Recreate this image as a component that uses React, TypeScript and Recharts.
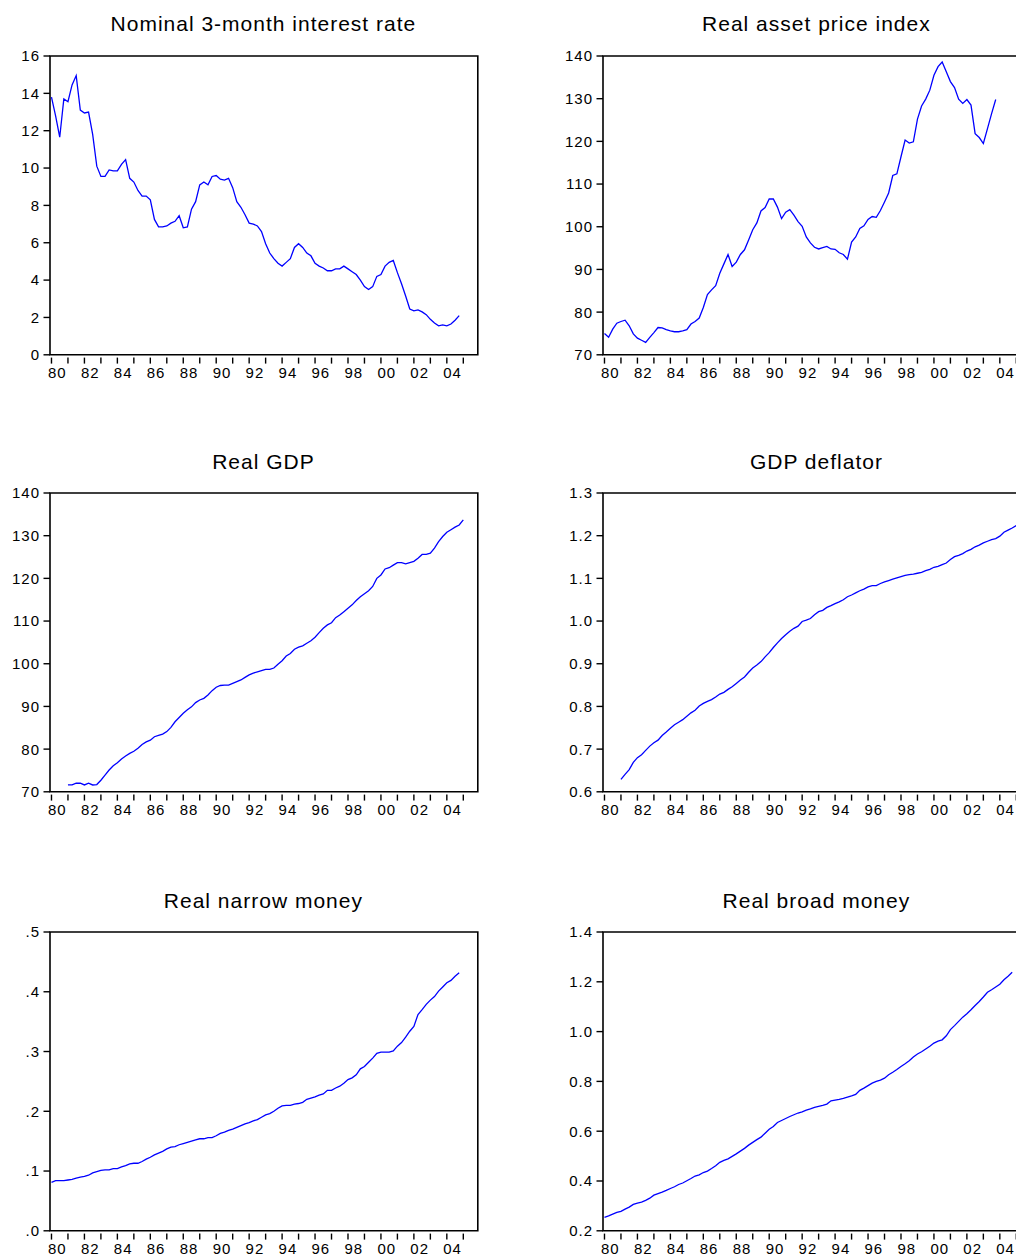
import React from "react";
import { LineChart, Line, XAxis, YAxis, ReferenceArea } from "recharts";

// ---------------- DATA ----------------
// Quarterly observations. Start year of each series (first quarter).
const interestStart = 1980;
const assetStart = 1980;
const gdpStart = 1981;
const deflatorStart = 1981;
const narrowStart = 1980;
const broadStart = 1980;

const interestRate = [
  13.8, 12.8, 11.65, 13.7,
  13.55, 14.45, 14.95, 13.1,
  12.95, 13.0, 11.8, 10.1,
  9.55, 9.55, 9.9, 9.85,
  9.85, 10.2, 10.45, 9.45,
  9.25, 8.8, 8.5, 8.5,
  8.3, 7.25, 6.85, 6.85,
  6.9, 7.05, 7.15, 7.45,
  6.8, 6.85, 7.8, 8.2,
  9.1, 9.25, 9.1, 9.55,
  9.6, 9.4, 9.35, 9.45,
  8.95, 8.2, 7.9, 7.5,
  7.05, 7.0, 6.9, 6.6,
  5.95, 5.45, 5.15, 4.9,
  4.75, 4.95, 5.15, 5.75,
  5.95, 5.75, 5.45, 5.3,
  4.9, 4.75, 4.65, 4.5,
  4.5, 4.6, 4.6, 4.75,
  4.6, 4.45, 4.3, 4.0,
  3.65, 3.5, 3.65, 4.2,
  4.3, 4.75, 4.95, 5.05,
  4.4, 3.8, 3.15, 2.45,
  2.35, 2.4, 2.3, 2.15,
  1.9, 1.7, 1.55, 1.6,
  1.55, 1.65, 1.85, 2.1,
];

const assetPrice = [
  75.0, 74.1, 76.0, 77.4,
  77.8, 78.1, 76.8, 74.9,
  73.9, 73.4, 72.9, 74.1,
  75.2, 76.4, 76.3, 75.9,
  75.6, 75.4, 75.4, 75.6,
  75.9, 77.2, 77.8, 78.6,
  81.1, 84.1, 85.2, 86.2,
  89.1, 91.3, 93.5, 90.7,
  91.7, 93.5, 94.6, 96.9,
  99.3, 100.9, 103.7, 104.5,
  106.5, 106.5, 104.6, 101.9,
  103.4, 104.0, 102.7, 101.2,
  100.1, 97.6, 96.2, 95.2,
  94.8, 95.1, 95.4, 94.8,
  94.7, 93.9, 93.5, 92.4,
  96.4, 97.6, 99.6, 100.2,
  101.7, 102.4, 102.2, 103.8,
  105.8, 107.9, 112.0, 112.4,
  116.4, 120.3, 119.6, 119.9,
  125.2, 128.3, 129.9, 132.0,
  135.5, 137.5, 138.6, 136.3,
  134.0, 132.6, 129.9, 128.9,
  129.8, 128.5, 121.8, 120.9,
  119.5, 123.0, 126.5, 129.8,
];

const realGdp = [
  71.6, 71.6, 72.0, 72.0,
  71.6, 72.0, 71.6, 71.7,
  72.7, 73.9, 75.1, 76.1,
  76.8, 77.7, 78.4, 79.0,
  79.5, 80.2, 81.1, 81.7,
  82.1, 82.9, 83.2, 83.5,
  84.1, 85.1, 86.4, 87.4,
  88.4, 89.2, 89.9, 90.9,
  91.5, 91.9, 92.7, 93.7,
  94.5, 94.9, 95.0, 95.0,
  95.4, 95.8, 96.2, 96.8,
  97.4, 97.8, 98.1, 98.4,
  98.7, 98.7, 99.0, 99.9,
  100.7, 101.8, 102.4, 103.4,
  103.9, 104.2, 104.8, 105.4,
  106.2, 107.3, 108.3, 109.1,
  109.6, 110.8, 111.4, 112.2,
  113.0, 113.8, 114.8, 115.7,
  116.4, 117.1, 118.1, 120.0,
  120.8, 122.2, 122.5, 123.1,
  123.7, 123.7, 123.4, 123.7,
  124.0, 124.7, 125.6, 125.6,
  125.9, 127.1, 128.6, 129.8,
  130.8, 131.4, 132.0, 132.5,
  133.7,
];

const gdpDeflator = [
  0.629, 0.641, 0.652, 0.669,
  0.68, 0.687, 0.697, 0.707,
  0.715, 0.721, 0.732, 0.74,
  0.749, 0.757, 0.763, 0.769,
  0.777, 0.785, 0.791, 0.801,
  0.807, 0.812, 0.816, 0.822,
  0.829, 0.833, 0.84, 0.846,
  0.854, 0.862, 0.869, 0.88,
  0.89, 0.897, 0.905, 0.916,
  0.926, 0.938, 0.949, 0.959,
  0.968, 0.976, 0.983, 0.988,
  0.999, 1.002, 1.006, 1.015,
  1.022, 1.025, 1.032, 1.036,
  1.041, 1.045, 1.05, 1.057,
  1.061, 1.066, 1.071, 1.075,
  1.08, 1.083, 1.083, 1.088,
  1.092, 1.095, 1.098, 1.101,
  1.104, 1.107, 1.109, 1.11,
  1.112, 1.114, 1.118, 1.121,
  1.126, 1.128, 1.132, 1.136,
  1.144, 1.151, 1.154, 1.158,
  1.164, 1.168, 1.174, 1.178,
  1.183, 1.187, 1.191, 1.193,
  1.199, 1.208, 1.213, 1.218,
  1.224,
];

const narrowMoney = [
  0.081, 0.084, 0.084, 0.084,
  0.085, 0.086, 0.088, 0.09,
  0.091, 0.093, 0.097, 0.099,
  0.101, 0.102, 0.102, 0.104,
  0.104, 0.107, 0.109, 0.112,
  0.113, 0.113, 0.116, 0.12,
  0.123, 0.127, 0.13, 0.133,
  0.137, 0.14, 0.141, 0.144,
  0.146, 0.148, 0.15, 0.152,
  0.154, 0.154, 0.156, 0.156,
  0.159, 0.163, 0.165, 0.168,
  0.17, 0.173, 0.176, 0.179,
  0.181, 0.184, 0.186, 0.19,
  0.194, 0.196, 0.2, 0.205,
  0.209, 0.21, 0.21, 0.212,
  0.213, 0.215, 0.22, 0.222,
  0.224, 0.227, 0.229, 0.235,
  0.235, 0.239, 0.242, 0.247,
  0.253, 0.256, 0.261, 0.271,
  0.275, 0.282, 0.289, 0.297,
  0.299, 0.299, 0.299, 0.301,
  0.309, 0.315, 0.324, 0.334,
  0.342, 0.362, 0.37, 0.379,
  0.386, 0.392, 0.401, 0.408,
  0.415, 0.419, 0.426, 0.432,
];

const broadMoney = [
  0.254, 0.26, 0.267, 0.274,
  0.278, 0.287, 0.295, 0.306,
  0.311, 0.315, 0.322, 0.331,
  0.343, 0.349, 0.355, 0.362,
  0.37, 0.377, 0.386, 0.392,
  0.401, 0.41, 0.42, 0.425,
  0.434, 0.44, 0.45, 0.461,
  0.475, 0.483, 0.489, 0.499,
  0.509, 0.52, 0.531, 0.544,
  0.555, 0.566, 0.576, 0.592,
  0.608, 0.619, 0.635, 0.643,
  0.651, 0.659, 0.666, 0.673,
  0.678, 0.685, 0.69, 0.696,
  0.7, 0.704, 0.709, 0.722,
  0.725, 0.728, 0.732, 0.737,
  0.742, 0.748, 0.764, 0.773,
  0.783, 0.793, 0.8, 0.805,
  0.813, 0.827, 0.837, 0.848,
  0.86, 0.871, 0.883, 0.898,
  0.91, 0.919, 0.93, 0.941,
  0.954, 0.962, 0.967, 0.983,
  1.008, 1.024, 1.041, 1.058,
  1.072, 1.088, 1.105, 1.121,
  1.139, 1.158, 1.168, 1.179,
  1.19, 1.208, 1.222, 1.238,
];

// Axis ticks
const xTickYears = [
  1980, 1981, 1982, 1983, 1984, 1985, 1986, 1987, 1988, 1989, 1990, 1991, 1992,
  1993, 1994, 1995, 1996, 1997, 1998, 1999, 2000, 2001, 2002, 2003, 2004, 2005,
];
const xLabelYears = [1980, 1982, 1984, 1986, 1988, 1990, 1992, 1994, 1996, 1998, 2000, 2002, 2004];
const xLabels = ["80", "82", "84", "86", "88", "90", "92", "94", "96", "98", "00", "02", "04"];

const interestTicks = [0, 2, 4, 6, 8, 10, 12, 14, 16];
const interestTickLabels = ["0", "2", "4", "6", "8", "10", "12", "14", "16"];
const assetTicks = [70, 80, 90, 100, 110, 120, 130, 140];
const assetTickLabels = ["70", "80", "90", "100", "110", "120", "130", "140"];
const gdpTicks = [70, 80, 90, 100, 110, 120, 130, 140];
const gdpTickLabels = ["70", "80", "90", "100", "110", "120", "130", "140"];
const deflatorTicks = [0.6, 0.7, 0.8, 0.9, 1.0, 1.1, 1.2, 1.3];
const deflatorTickLabels = ["0.6", "0.7", "0.8", "0.9", "1.0", "1.1", "1.2", "1.3"];
const narrowTicks = [0, 0.1, 0.2, 0.3, 0.4, 0.5];
const narrowTickLabels = [".0", ".1", ".2", ".3", ".4", ".5"];
const broadTicks = [0.2, 0.4, 0.6, 0.8, 1.0, 1.2, 1.4];
const broadTickLabels = ["0.2", "0.4", "0.6", "0.8", "1.0", "1.2", "1.4"];

const titles = [
  "Nominal 3-month interest rate",
  "Real asset price index",
  "Real GDP",
  "GDP deflator",
  "Real narrow money",
  "Real broad money",
];

// ---------------- LAYOUT / STYLE ----------------
const FONT = '"Liberation Sans", Arial, Helvetica, sans-serif';
const X_DOMAIN: [number, number] = [1979.91, 2005.88];
const FRAME_W = 427.8;
const FRAME_H = 298.8;
const COL_LEFT = [49.5, 602.5];
const ROW_TOP = [55.8, 493.3, 932.3];
const PAD_L = 60;
const PAD_T = 10;
const PAD_R = 10;
const PAD_B = 40;
const LINE_COLOR = "#0000ff";

function toSeries(values: number[], start: number) {
  return values.map((v, i) => ({ t: start + i / 4, v }));
}

function XTick(props: any) {
  const { x, y, payload } = props;
  const yr = payload.value;
  const idx = xLabelYears.indexOf(yr);
  return (
    <g>
      <line x1={x} x2={x} y1={y + 2.8} y2={y + 8.8} stroke="#000" strokeWidth={1.4} />
      {idx >= 0 && (
        <text
          x={x + 5.8}
          y={y + 23.5}
          textAnchor="middle"
          fontSize={15}
          fill="#000"
          fontFamily={FONT}
          style={{ letterSpacing: "1px" }}
        >
          {xLabels[idx]}
        </text>
      )}
    </g>
  );
}

function makeYTick(ticks: number[], labels: string[]) {
  return function YTick(props: any) {
    const { x, y, payload } = props;
    const idx = ticks.indexOf(payload.value);
    return (
      <text
        x={x}
        y={y}
        dy="0.36em"
        textAnchor="end"
        fontSize={15}
        fill="#000"
        fontFamily={FONT}
        style={{ letterSpacing: "1px" }}
      >
        {idx >= 0 ? labels[idx] : ""}
      </text>
    );
  };
}

type PanelProps = {
  title: string;
  values: number[];
  start: number;
  ticks: number[];
  tickLabels: string[];
  col: number;
  row: number;
};

function Panel({ title, values, start, ticks, tickLabels, col, row }: PanelProps) {
  const data = toSeries(values, start);
  const frameLeft = COL_LEFT[col];
  const frameTop = ROW_TOP[row];
  const yDomain: [number, number] = [ticks[0], ticks[ticks.length - 1]];
  const YTick = makeYTick(ticks, tickLabels);
  return (
    <>
      <div
        style={{
          position: "absolute",
          left: frameLeft,
          top: frameTop - 25 - 17.8,
          width: FRAME_W,
          textAlign: "center",
          fontFamily: FONT,
          fontSize: 21,
          lineHeight: "21px",
          letterSpacing: "1px",
          color: "#000",
          whiteSpace: "nowrap",
        }}
      >
        {title}
      </div>
      <div style={{ position: "absolute", left: frameLeft - PAD_L, top: frameTop - PAD_T }}>
        <LineChart
          width={PAD_L + FRAME_W + PAD_R}
          height={PAD_T + FRAME_H + PAD_B}
          data={data}
          margin={{ top: PAD_T, right: PAD_R, left: 0, bottom: 0 }}
        >
          <XAxis
            dataKey="t"
            type="number"
            domain={X_DOMAIN}
            ticks={xTickYears}
            interval={0}
            allowDataOverflow
            height={PAD_B}
            axisLine={false}
            tickLine={false}
            tickSize={0}
            tickMargin={0}
            tick={<XTick />}
          />
          <YAxis
            type="number"
            domain={yDomain}
            ticks={ticks}
            interval={0}
            allowDataOverflow
            width={PAD_L}
            axisLine={false}
            tickSize={6.5}
            tickMargin={3.5}
            tickLine={{ stroke: "#000", strokeWidth: 1.4 }}
            tick={<YTick />}
          />
          <ReferenceArea
            x1={X_DOMAIN[0]}
            x2={X_DOMAIN[1]}
            y1={yDomain[0]}
            y2={yDomain[1]}
            fill="none"
            fillOpacity={0}
            stroke="#000"
            strokeWidth={1.6}
            ifOverflow="visible"
          />
          <Line
            type="linear"
            dataKey="v"
            stroke={LINE_COLOR}
            strokeWidth={1.3}
            dot={false}
            activeDot={false}
            isAnimationActive={false}
          />
        </LineChart>
      </div>
    </>
  );
}

export default function App() {
  return (
    <div
      style={{
        position: "absolute",
        left: 0,
        top: 0,
        width: 1016,
        height: 1256,
        overflow: "hidden",
        background: "#fff",
      }}
    >
      <Panel title={titles[0]} values={interestRate} start={interestStart} ticks={interestTicks} tickLabels={interestTickLabels} col={0} row={0} />
      <Panel title={titles[1]} values={assetPrice} start={assetStart} ticks={assetTicks} tickLabels={assetTickLabels} col={1} row={0} />
      <Panel title={titles[2]} values={realGdp} start={gdpStart} ticks={gdpTicks} tickLabels={gdpTickLabels} col={0} row={1} />
      <Panel title={titles[3]} values={gdpDeflator} start={deflatorStart} ticks={deflatorTicks} tickLabels={deflatorTickLabels} col={1} row={1} />
      <Panel title={titles[4]} values={narrowMoney} start={narrowStart} ticks={narrowTicks} tickLabels={narrowTickLabels} col={0} row={2} />
      <Panel title={titles[5]} values={broadMoney} start={broadStart} ticks={broadTicks} tickLabels={broadTickLabels} col={1} row={2} />
    </div>
  );
}
